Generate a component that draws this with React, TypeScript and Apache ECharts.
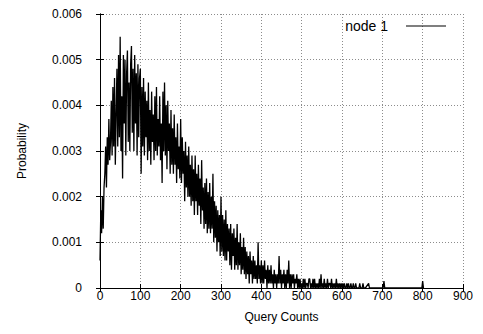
import React, { useEffect, useRef } from "react";
import * as echarts from "echarts";

// Query count bins (step of 2), probability per bin
const binStep = 2;
const probabilities: number[] = [
  // 0-18
  0.0006, 0.0017, 0.0012, 0.0020, 0.0013, 0.0022, 0.0025, 0.0031, 0.0022, 0.0033,
  // 20-38
  0.0027, 0.0037, 0.0028, 0.0032, 0.0041, 0.0029, 0.0044, 0.0031, 0.0046, 0.0027,
  // 40-58
  0.0038, 0.0048, 0.0031, 0.0051, 0.0033, 0.0055, 0.0030, 0.0042, 0.0024, 0.0051,
  // 60-78
  0.0036, 0.0050, 0.0029, 0.0047, 0.0052, 0.0032, 0.0045, 0.0030, 0.0049, 0.0053,
  // 80-98
  0.0034, 0.0048, 0.0030, 0.0051, 0.0036, 0.0047, 0.0029, 0.0049, 0.0033, 0.0046,
  // 100-118
  0.0048, 0.0025, 0.0044, 0.0031, 0.0046, 0.0029, 0.0043, 0.0033, 0.0041, 0.0028,
  // 120-138
  0.0045, 0.0030, 0.0039, 0.0027, 0.0043, 0.0032, 0.0038, 0.0028, 0.0042, 0.0030,
  // 140-158
  0.0044, 0.0029, 0.0037, 0.0031, 0.0042, 0.0028, 0.0036, 0.0023, 0.0043, 0.0030,
  // 160-178
  0.0045, 0.0029, 0.0040, 0.0026, 0.0041, 0.0030, 0.0036, 0.0025, 0.0039, 0.0027,
  // 180-198
  0.0035, 0.0025, 0.0038, 0.0027, 0.0033, 0.0023, 0.0036, 0.0026, 0.0031, 0.0024,
  // 200-218
  0.0037, 0.0023, 0.0033, 0.0025, 0.0030, 0.0019, 0.0032, 0.0022, 0.0029, 0.0020,
  // 220-238
  0.0031, 0.0020, 0.0027, 0.0018, 0.0029, 0.0019, 0.0026, 0.0016, 0.0029, 0.0019,
  // 240-258
  0.0025, 0.0016, 0.0027, 0.0018, 0.0024, 0.0014, 0.0028, 0.0017, 0.0022, 0.0013,
  // 260-278
  0.0023, 0.0014, 0.0024, 0.0012, 0.0021, 0.0013, 0.0023, 0.0012, 0.0020, 0.0013,
  // 280-298
  0.0025, 0.0010, 0.0019, 0.0011, 0.0018, 0.0008, 0.0017, 0.0010, 0.0016, 0.0007,
  // 300-318
  0.0020, 0.0008, 0.0016, 0.0007, 0.0015, 0.0006, 0.0017, 0.0006, 0.0014, 0.0008,
  // 320-338
  0.0013, 0.0005, 0.0014, 0.0004, 0.0012, 0.0007, 0.0013, 0.0004, 0.0011, 0.0005,
  // 340-358
  0.0014, 0.0004, 0.0010, 0.0005, 0.0012, 0.0003, 0.0009, 0.0004, 0.0011, 0.0003,
  // 360-378
  0.0009, 0.0002, 0.0008, 0.0003, 0.0007, 0.0001, 0.0008, 0.0003, 0.0006, 0.0001,
  // 380-398
  0.0007, 0.0002, 0.0006, 0.0002, 0.0005, 0.0001, 0.0010, 0.0002, 0.0005, 0.0001,
  // 400-418
  0.0006, 0.0001, 0.0005, 0.0001, 0.0006, 0.0002, 0.0004, 0.0000, 0.0005, 0.0001,
  // 420-438
  0.0004, 0.0001, 0.0005, 0.0001, 0.0003, 0.0000, 0.0004, 0.0001, 0.0003, 0.0000,
  // 440-458
  0.0003, 0.0001, 0.0007, 0.0001, 0.0004, 0.0000, 0.0003, 0.0001, 0.0004, 0.0000,
  // 460-478
  0.0003, 0.0000, 0.0004, 0.0001, 0.0006, 0.0000, 0.0003, 0.0000, 0.0003, 0.0001,
  // 480-498
  0.0003, 0.0000, 0.0002, 0.0001, 0.0003, 0.0000, 0.0002, 0.0000, 0.0002, 0.0000,
  // 500-518
  0.0001, 0.0000, 0.0002, 0.0000, 0.0002, 0.0000, 0.0001, 0.0001, 0.0000, 0.0002,
  // 520-538
  0.0002, 0.0000, 0.0001, 0.0000, 0.0002, 0.0000, 0.0002, 0.0000, 0.0001, 0.0000,
  // 540-558
  0.0001, 0.0000, 0.0002, 0.0000, 0.0003, 0.0000, 0.0001, 0.0000, 0.0002, 0.0000,
  // 560-578
  0.0001, 0.0000, 0.0002, 0.0000, 0.0001, 0.0001, 0.0000, 0.0002, 0.0000, 0.0001,
  // 580-598
  0.0000, 0.0001, 0.0000, 0.0002, 0.0000, 0.0001, 0.0000, 0.0001, 0.0000, 0.0001,
  // 600-618
  0.0000, 0.0001, 0.0000, 0.0001, 0.0000, 0.0000, 0.0001, 0.0000, 0.0001, 0.0000,
  // 620-638
  0.0000, 0.0001, 0.0000, 0.0000, 0.0001, 0.0000, 0.0000, 0.0001, 0.0000, 0.0000,
  // 640-658
  0.0000, 0.0000, 0.0001, 0.0000, 0.0000, 0.0000, 0.0001, 0.0000, 0.0000, 0.0000,
];

// Sparse tail beyond the main run: [query count, probability]
const tailPoints: [number, number][] = [
  [666, 0.0001], [668, 0], [702, 0], [704, 0.00015], [706, 0],
  [798, 0], [800, 0.00015], [802, 0],
];

const xTicks = { min: 0, max: 900, interval: 100 };
const yTicks = { min: 0, max: 0.006, interval: 0.001 };
const seriesName = "node 1";

export default function App() {
  const ref = useRef<HTMLDivElement>(null);

  useEffect(() => {
    if (!ref.current) return;
    const chart = echarts.init(ref.current, undefined, { renderer: "svg" });
    const data: [number, number][] = probabilities
      .map((p, i) => [i * binStep, p] as [number, number])
      .concat(tailPoints);

    const font = "Liberation Sans, Arial, Helvetica, sans-serif";
    const gridLine = {
      show: true,
      lineStyle: { color: "#8c8c8c", width: 1, type: [1, 2] as number[] },
    };
    const axisLine = { show: true, lineStyle: { color: "#000", width: 1 } };
    const tick = { show: true, inside: true, length: 4, lineStyle: { color: "#000" } };

    chart.setOption({
      animation: false,
      backgroundColor: "#fff",
      grid: { left: 100, right: 20, top: 14, bottom: 46, containLabel: false },
      legend: {
        show: true,
        data: [{ name: seriesName, icon: "rect" }],
        right: 37,
        top: 19,
        padding: 0,
        align: "right",
        itemWidth: 40,
        itemHeight: 1,
        selectedMode: false,
        textStyle: {
          fontFamily: font,
          fontSize: 14,
          color: "#000",
          padding: [0, 13, 0, 0],
        },
        itemStyle: { color: "#000" },
      },
      xAxis: [
        {
          type: "value",
          min: xTicks.min,
          max: xTicks.max,
          interval: xTicks.interval,
          name: "Query Counts",
          nameLocation: "middle",
          nameGap: 23,
          nameTextStyle: { fontFamily: font, fontSize: 12, color: "#000" },
          axisLine,
          axisTick: tick,
          axisLabel: { fontFamily: font, fontSize: 12, color: "#000", margin: 2 },
          splitLine: gridLine,
        },
        {
          type: "value",
          position: "top",
          min: xTicks.min,
          max: xTicks.max,
          interval: xTicks.interval,
          axisLine,
          axisTick: tick,
          axisLabel: { show: false },
          splitLine: { show: false },
        },
      ],
      yAxis: [
        {
          type: "value",
          min: yTicks.min,
          max: yTicks.max,
          interval: yTicks.interval,
          name: "Probability",
          nameLocation: "middle",
          nameRotate: 90,
          nameGap: 72,
          nameTextStyle: { fontFamily: font, fontSize: 12, color: "#000" },
          axisLine,
          axisTick: tick,
          axisLabel: { fontFamily: font, fontSize: 12, color: "#000", margin: 18 },
          splitLine: gridLine,
        },
        {
          type: "value",
          position: "right",
          min: yTicks.min,
          max: yTicks.max,
          interval: yTicks.interval,
          axisLine,
          axisTick: tick,
          axisLabel: { show: false },
          splitLine: { show: false },
        },
      ],
      series: [
        {
          name: seriesName,
          type: "line",
          xAxisIndex: 0,
          yAxisIndex: 0,
          data,
          showSymbol: false,
          symbol: "none",
          lineStyle: { color: "#000", width: 1.3 },
          itemStyle: { color: "#000" },
          z: 5,
        },
      ],
    });

    return () => chart.dispose();
  }, []);

  return (
    <div
      ref={ref}
      style={{ position: "absolute", left: 0, top: 0, width: 483, height: 334 }}
    />
  );
}
